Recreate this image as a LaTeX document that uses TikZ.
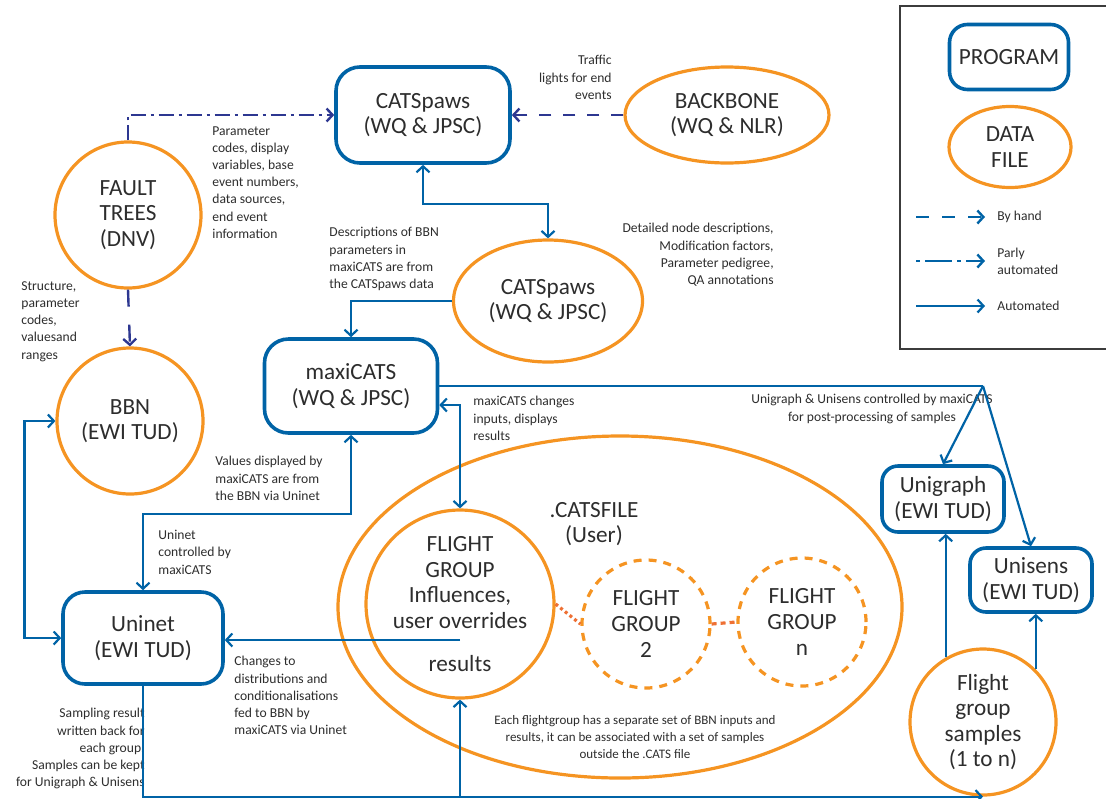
\documentclass[tikz,border=0pt]{standalone}
\usepackage{fontspec}
\setmainfont{Carlito}
\usepackage{tikz}
\usetikzlibrary{shapes.geometric, arrows.meta, positioning}
\definecolor{progblue}{RGB}{0, 99, 166}
\definecolor{fileorange}{RGB}{245, 148, 34}
\definecolor{handnavy}{RGB}{45, 55, 145}
\definecolor{linkred}{RGB}{238, 112, 52}
\definecolor{txtgray}{RGB}{45, 45, 45}
\definecolor{framegray}{RGB}{60, 60, 60}
\newcommand{\mainsize}{\fontsize{11.6}{12.8}\selectfont}
\newcommand{\notesize}{\fontsize{6.8}{8.6}\selectfont}

\begin{document}
\begin{tikzpicture}[x=0.5pt, y=-0.5pt,
  >={Straight Barb[length=3pt, width=6.5pt]},
  prog/.style={draw=progblue, line width=1.8pt, rounded corners=10pt, align=center, text=txtgray, font=\mainsize, inner sep=0pt},
  datafile/.style={ellipse, draw=fileorange, line width=1.6pt, align=center, text=txtgray, font=\mainsize, inner sep=0pt},
  datacircle/.style={datafile, circle},
  flightgrp/.style={datacircle, dash pattern=on 4pt off 3.5pt, minimum size=64pt},
  note/.style={font=\notesize, text=txtgray, inner sep=0pt},
  autolink/.style={draw=progblue, line width=1.1pt, ->},
  byhand/.style={draw=handnavy, line width=1.2pt, dash pattern=on 6pt off 6pt, ->},
  partlink/.style={draw=handnavy, line width=1.2pt, dash pattern=on 7.5pt off 2.5pt on 1.5pt off 2.5pt, ->},
  grplink/.style={draw=linkred, line width=1.6pt}
]
  \useasboundingbox (0, 0) rectangle (1106, 798);

  % Legend
  \draw[framegray, line width=0.7pt] (1112, 6) -| (900, 349) -- (1112, 349);
  \node[prog, minimum width=59.5pt, minimum height=32.5pt, rounded corners=9pt] (progkey) at (1009, 57) {PROGRAM};
  \node[datafile, minimum width=61pt, minimum height=40.5pt] (filekey) at (1010, 147) {DATA\\FILE};
  \node[note, anchor=west] (handkey) at (997, 217) {By hand};
  \node[note, anchor=west, align=left] (partkey) at (997, 261) {Parly\\automated};
  \node[note, anchor=west] (autokey) at (997, 306) {Automated};
  \coordinate (handstart) at (916, 217);
  \coordinate (partstart) at (916, 261);
  \coordinate (autostart) at (916, 306);
  \draw[byhand, draw=progblue, dash pattern=on 6.5pt off 6.5pt] (handstart) -- ([xshift=-6pt]handkey.west);
  \draw[partlink, draw=progblue, dash pattern=on 2pt off 2.5pt on 13.5pt off 2.5pt] (partstart) -- ([xshift=-6pt]partkey.west);
  \draw[autolink] (autostart) -- ([xshift=-6pt]autokey.west);

  % Sources
  \node[prog, minimum width=87pt, minimum height=48pt, rounded corners=12pt] (catsprog) at (423, 115) {CATSpaws\\(WQ \& JPSC)};
  \node[datafile, minimum width=102pt, minimum height=48pt] (backbone) at (727, 115) {BACKBONE\\(WQ \& NLR)};
  \node[datacircle, minimum size=73pt] (fault) at (128, 215) {FAULT\\TREES\\(DNV)};
  \node[datafile, minimum width=94.5pt, minimum height=61pt] (pawsfile) at (548, 301) {CATSpaws\\(WQ \& JPSC)};
  \node[prog, minimum width=86.5pt, minimum height=47pt, rounded corners=12pt] (maxi) at (351, 386) {maxiCATS\\(WQ \& JPSC)};
  \node[datacircle, minimum size=73pt] (bbn) at (130, 421) {BBN\\(EWI TUD)};
  \node[prog, minimum width=80pt, minimum height=46pt, rounded corners=11pt] (uninet) at (143, 638) {Uninet\\(EWI TUD)};

  % .CATS file
  \node[datafile, minimum width=282pt, minimum height=171pt] (catsfile) at (620, 607) {};
  \node[font=\mainsize, text=txtgray, align=center, inner sep=0pt] (catsfilelbl) at (594, 524) {.CATSFILE\\(User)};
  \node[datacircle, minimum size=94pt, inner sep=-2pt] (fg1) at (460, 604) {FLIGHT\\GROUP\\Influences,\\user overrides\\[8.5pt]results};
  \node[flightgrp] (fg2) at (646, 624) {FLIGHT\\GROUP\\2};
  \node[flightgrp] (fgn) at (802, 622) {FLIGHT\\GROUP\\n};

  % Post-processing
  \node[prog, minimum width=61pt, minimum height=33pt, rounded corners=8pt] (unigraph) at (943, 499) {Unigraph\\(EWI TUD)};
  \node[prog, minimum width=61pt, minimum height=32pt, rounded corners=8pt] (unisens) at (1031, 580) {Unisens\\(EWI TUD)};
  \node[datacircle, minimum size=73pt] (samples) at (983, 722) {Flight\\group\\samples\\(1 to n)};

  % Notes
  \node[note, anchor=north east, align=right] (trafficnote) at (612, 55) {Traffic\\lights for end\\events};
  \node[note, anchor=north west, align=left] (paramnote) at (212, 126) {Parameter\\codes, display\\variables, base\\event numbers,\\data sources,\\end event\\information};
  \node[note, anchor=north west, align=left] (structnote) at (21, 281) {Structure,\\parameter\\codes,\\valuesand\\ranges};
  \node[note, anchor=north west, align=left] (descnote) at (329, 227) {Descriptions of BBN\\parameters in\\maxiCATS are from\\the CATSpaws data};
  \node[note, anchor=north east, align=right] (detailnote) at (774, 223) {Detailed node descriptions,\\Modification factors,\\Parameter pedigree,\\QA annotations};
  \node[note, anchor=north west, align=left] (maxinote) at (473, 396) {maxiCATS changes\\inputs, displays\\results};
  \node[note, anchor=north, align=center] (ctrlnote) at (872, 394) {Unigraph \& Unisens controlled by maxiCATS\\for post-processing of samples};
  \node[note, anchor=north west, align=left] (valuesnote) at (215, 456) {Values displayed by\\maxiCATS are from\\the BBN via Uninet};
  \node[note, anchor=north west, align=left] (uninetnote) at (158, 530) {Uninet\\controlled by\\maxiCATS};
  \node[note, anchor=north west, align=left] (changesnote) at (234, 656) {Changes to\\distributions and\\conditionalisations\\fed to BBN by\\maxiCATS via Uninet};
  \node[note, anchor=north east, align=right] (samplingnote) at (145, 708) {Sampling result\\written back for\\each group.\\Samples can be kept\\for Unigraph \& Unisens};
  \node[note, font=\fontsize{6.5}{8.6}\selectfont, anchor=north, align=center] (eachnote) at (635, 715) {Each flightgroup has a separate set of BBN inputs and\\results, it can be associated with a set of samples\\outside the .CATS file};

  % Connectors
  \draw[partlink] (fault.north) |- (catsprog.west);
  \draw[byhand] (backbone.west) -- (catsprog.east);
  \draw[byhand, dash pattern=on 8.5pt off 9pt] (fault.south) -- (bbn.north);
  \draw[autolink, <->] (catsprog.south) -- ++(0, 39) -| (pawsfile.north);
  \draw[autolink] (pawsfile.west) -| (maxi.north);
  \draw[autolink, <->] (bbn.west) -- ++(-31, 0) |- (uninet.west);
  \draw[autolink, <->] (uninet.north) -- ++(0, -76) -| (maxi.south);
  \draw[autolink, <->] ([yshift=-9.5pt]maxi.east) -| (fg1.north);
  \coordinate (apex) at (983, 386);
  \draw[autolink, -] (maxi.east) -- (apex);
  \draw[autolink] (apex) -- (unigraph.north);
  \draw[autolink] (apex) -- (unisens.north);
  \coordinate (fgcut) at ([yshift=-18pt]fg1.center);
  \draw[autolink] (fgcut) -- (fgcut -| uninet.east);
  \draw[autolink] (uninet.south) |- (samples.south);
  \draw[autolink] (fg1.south |- samples.south) -- (fg1.south);
  \draw[autolink] (samples.120) -- (samples.120 |- unigraph.south);
  \draw[autolink] (samples.45) -- (samples.45 |- unisens.south);
  \draw[grplink, dash pattern=on 1.5pt off 1.5pt] (fg1.east) -- (fg2.west);
  \draw[grplink, dash pattern=on 2.5pt off 2pt] (fg2.east) -- (fgn.west);
\end{tikzpicture}
\end{document}
